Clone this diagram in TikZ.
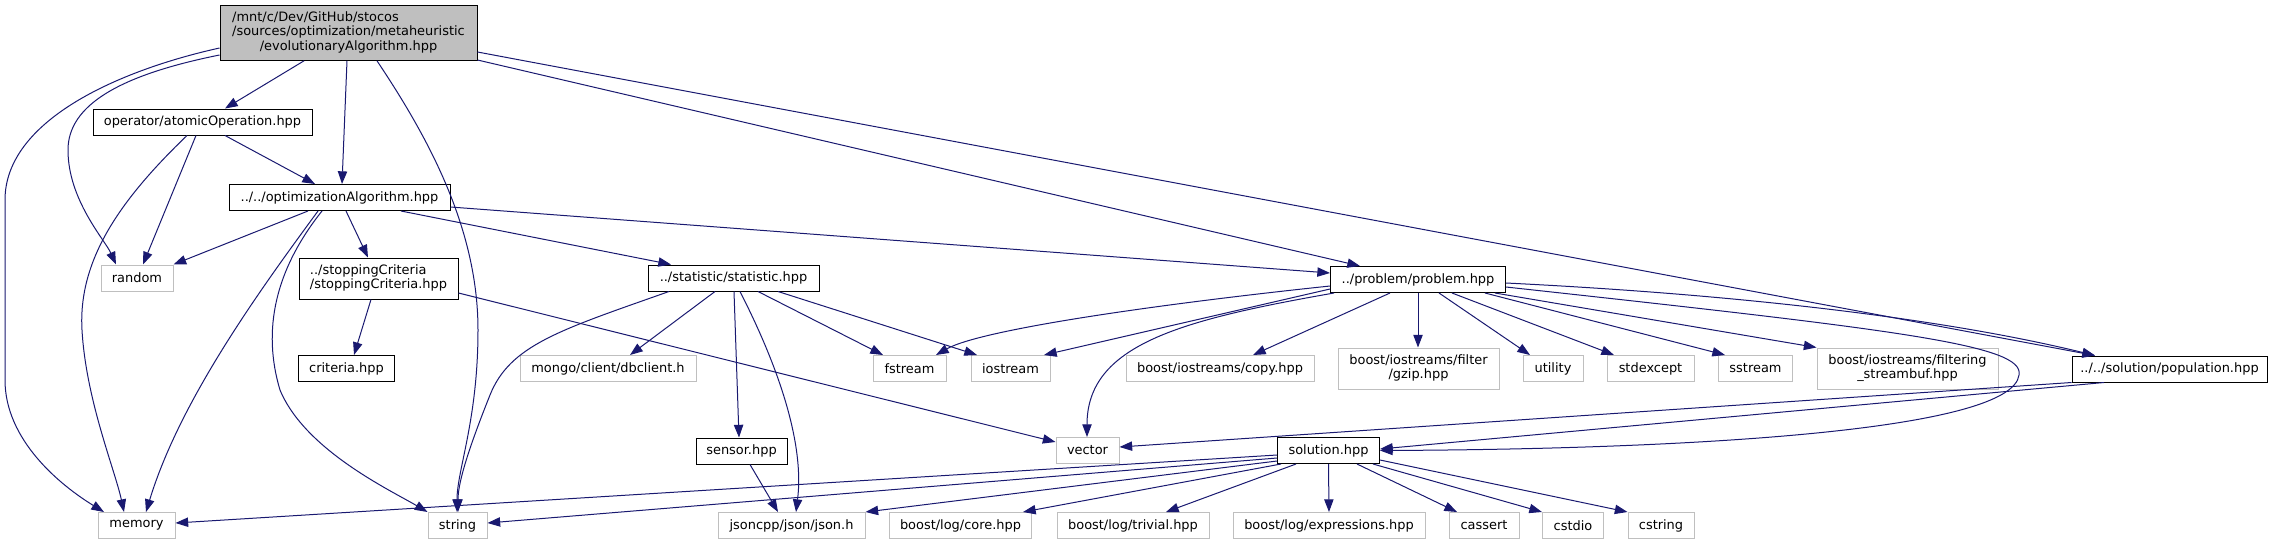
\documentclass[tikz,border=0pt]{standalone}
\usepackage{fontspec}
\setmainfont{DejaVu Sans}
\usepackage{tikz}
\usetikzlibrary{arrows.meta}
\definecolor{dxblue}{RGB}{25,25,112}
\definecolor{dxgrey}{RGB}{191,191,191}
\newcommand{\lastln}[1]{\multicolumn{1}{@{}c@{}}{#1}}

\begin{document}
\begin{tikzpicture}[x=0.75pt,y=-0.75pt,
  box/.style={rectangle,line width=0.75pt,inner sep=0pt,minimum height=19.5pt,font=\fontsize{9.7}{11}\selectfont},
  hdr/.style={box,draw=black,fill=dxgrey},
  inc/.style={box,draw=black,fill=white},
  sys/.style={box,draw=dxgrey,fill=white},
  bw/.style={minimum width=#1*0.75pt},
  incl/.style={dxblue,line width=0.75pt,-{Triangle[length=9.5pt,width=7pt]}}]
  \useasboundingbox (0,0) rectangle (2277,544);

  \node[hdr,bw=257,minimum height=41pt] (evo) at (348.5,33) {\begin{tabular}{@{}l@{}}/mnt/c/Dev/GitHub/stocos\\/sources/optimization/metaheuristic\\\lastln{/evolutionaryAlgorithm.hpp}\end{tabular}};
  \node[inc,bw=219] (atomic) at (202.5,122) {operator/atomicOperation.hpp};
  \node[inc,bw=221] (optalg) at (339.5,197.5) {../../optimizationAlgorithm.hpp};

  \node[sys,bw=72] (random) at (137,278) {random};
  \node[inc,bw=159,minimum height=30.75pt] (stopcrit) at (378.5,278.5) {\begin{tabular}{@{}l@{}}../stoppingCriteria\\\lastln{/stoppingCriteria.hpp}\end{tabular}};
  \node[inc,bw=171] (statistic) at (733.5,278) {../statistic/statistic.hpp};
  \node[inc,bw=175] (problem) at (1418,279.5) {../problem/problem.hpp};

  \node[inc,bw=96] (criteria) at (346.5,368.5) {criteria.hpp};
  \node[sys,bw=176] (mongo) at (608,368.5) {mongo/client/dbclient.h};
  \node[sys,bw=73] (fstream) at (909.5,368.5) {fstream};
  \node[sys,bw=79] (iostream) at (1010.5,368.5) {iostream};
  \node[sys,bw=188] (copy) at (1220,368.5) {boost/iostreams/copy.hpp};
  \node[sys,bw=161,minimum height=30.75pt] (gzip) at (1418.5,368.5) {\begin{tabular}{@{}l@{}}boost/iostreams/filter\\\lastln{/gzip.hpp}\end{tabular}};
  \node[sys,bw=60] (utility) at (1553,368.5) {utility};
  \node[sys,bw=87] (stdexcept) at (1650.5,368.5) {stdexcept};
  \node[sys,bw=74] (sstream) at (1755.5,368.5) {sstream};
  \node[sys,bw=181,minimum height=30.75pt] (filtering) at (1907.5,368.5) {\begin{tabular}{@{}l@{}}boost/iostreams/filtering\\\lastln{\_streambuf.hpp}\end{tabular}};
  \node[inc,bw=195] (population) at (2169.5,369) {../../solution/population.hpp};

  \node[inc,bw=91] (sensor) at (741.5,451) {sensor.hpp};
  \node[sys,bw=63] (vector) at (1087.5,450.5) {vector};
  \node[inc,bw=102] (solution) at (1328.5,450.5) {solution.hpp};

  \node[sys,bw=77] (memory) at (136.5,525.5) {memory};
  \node[sys,bw=59] (string) at (457.5,525.5) {string};
  \node[sys,bw=147] (json) at (791.5,525.5) {jsoncpp/json/json.h};
  \node[sys,bw=142] (logcore) at (960.5,525.5) {boost/log/core.hpp};
  \node[sys,bw=152] (logtrivial) at (1133,525.5) {boost/log/trivial.hpp};
  \node[sys,bw=192] (logexpr) at (1329,525.5) {boost/log/expressions.hpp};
  \node[sys,bw=70] (cassert) at (1484,525.5) {cassert};
  \node[sys,bw=61] (cstdio) at (1573,525.5) {cstdio};
  \node[sys,bw=66] (cstring) at (1661,525.5) {cstring};

  % evolutionaryAlgorithm.hpp
  \draw[incl] (evo.west |- 0,48) .. controls (120,70) and (5,120) .. (5,200) -- (5,380) .. controls (5,440) and (60,485) .. (104,0 |- memory.north);
  \draw[incl] (evo.west |- 0,55) .. controls (120,75) and (68,105) .. (68,150) .. controls (68,200) and (105,240) .. (116,0 |- random.north);
  \draw[incl] (304,0 |- evo.south) -- (225,0 |- atomic.north);
  \draw[incl] (347,0 |- evo.south) -- (342,0 |- optalg.north);
  \draw[incl] (377,0 |- evo.south) .. controls (430,140) and (478,230) .. (478,330) .. controls (478,420) and (457,470) .. (457,0 |- string.north);
  \draw[incl] (evo.east |- 0,60) -- (1360,0 |- problem.north);
  \draw[incl] (evo.east |- 0,52) -- (2095,0 |- population.north);

  % atomicOperation.hpp
  \draw[incl] (196,0 |- atomic.south) -- (143,0 |- random.north);
  \draw[incl] (187,0 |- atomic.south) .. controls (120,200) and (78,260) .. (82,330) .. controls (86,400) and (115,470) .. (124,0 |- memory.north);
  \draw[incl] (225,0 |- atomic.south) -- (315,0 |- optalg.north);

  % optimizationAlgorithm.hpp
  \draw[incl] (308,0 |- optalg.south) -- (random.north east);
  \draw[incl] (318,0 |- optalg.south) .. controls (260,290) and (180,400) .. (146,0 |- memory.north);
  \draw[incl] (322,0 |- optalg.south) .. controls (275,270) and (262,330) .. (280,390) .. controls (305,450) and (390,490) .. (string.north west);
  \draw[incl] (346,0 |- optalg.south) -- (368,0 |- stopcrit.north);
  \draw[incl] (401,0 |- optalg.south) -- (671,0 |- statistic.north);
  \draw[incl] (optalg.east |- 0,207) -- (problem.west |- 0,273);

  \draw[incl] (371,0 |- stopcrit.south) -- (354,0 |- criteria.north);
  \draw[incl] (stopcrit.east |- 0,293) -- (vector.west |- 0,442);

  % statistic.hpp
  \draw[incl] (669,0 |- statistic.south) .. controls (560,330) and (510,345) .. (490,395) .. controls (472,440) and (458,480) .. (458,0 |- string.north);
  \draw[incl] (715,0 |- statistic.south) -- (630,0 |- mongo.north);
  \draw[incl] (734,0 |- statistic.south) -- (739,0 |- sensor.north);
  \draw[incl] (740,0 |- statistic.south) .. controls (775,360) and (805,440) .. (796,0 |- json.north);
  \draw[incl] (758,0 |- statistic.south) -- (883,0 |- fstream.north);
  \draw[incl] (778,0 |- statistic.south) -- (977,0 |- iostream.north);
  \draw[incl] (750,0 |- sensor.south) -- (778,0 |- json.north);

  % problem.hpp
  \draw[incl] (problem.west |- 0,286) .. controls (1150,305) and (980,330) .. (936,0 |- fstream.north);
  \draw[incl] (problem.west |- 0,289) -- (1044,0 |- iostream.north);
  \draw[incl] (1334,0 |- problem.south) .. controls (1180,320) and (1087,345) .. (1087,0 |- vector.north);
  \draw[incl] (1390,0 |- problem.south) -- (1253,0 |- copy.north);
  \draw[incl] (1418,0 |- problem.south) -- (1418,0 |- gzip.north);
  \draw[incl] (1439,0 |- problem.south) -- (1530,0 |- utility.north);
  \draw[incl] (1452,0 |- problem.south) -- (1614,0 |- stdexcept.north);
  \draw[incl] (1485,0 |- problem.south) -- (1725,0 |- sstream.north);
  \draw[incl] (1495,0 |- problem.south) -- (filtering.north west);
  \draw[incl] (problem.east |- 0,283) .. controls (1750,295) and (1950,320) .. (2095,0 |- population.north);
  \draw[incl] (problem.east |- 0,287) .. controls (1900,330) and (2025,345) .. (2019,375) .. controls (2012,430) and (1700,449) .. (solution.east);

  \draw[incl] (population.south west) -- (vector.east |- 0,447);
  \draw[incl] (2104,0 |- population.south) -- (solution.east |- 0,449);

  % solution.hpp
  \draw[incl] (solution.west |- 0,455) -- (memory.east |- 0,523);
  \draw[incl] (solution.west |- 0,458) -- (string.east |- 0,523);
  \draw[incl] (solution.west |- 0,461) -- (json.north east);
  \draw[incl] (1281,0 |- solution.south) -- (1023,0 |- logcore.north);
  \draw[incl] (1296,0 |- solution.south) -- (1166,0 |- logtrivial.north);
  \draw[incl] (solution.south) -- (logexpr.north);
  \draw[incl] (1357,0 |- solution.south) -- (1457,0 |- cassert.north);
  \draw[incl] (1373,0 |- solution.south) -- (cstdio.north west);
  \draw[incl] (solution.east |- 0,460) -- (cstring.north west);
\end{tikzpicture}
\end{document}
